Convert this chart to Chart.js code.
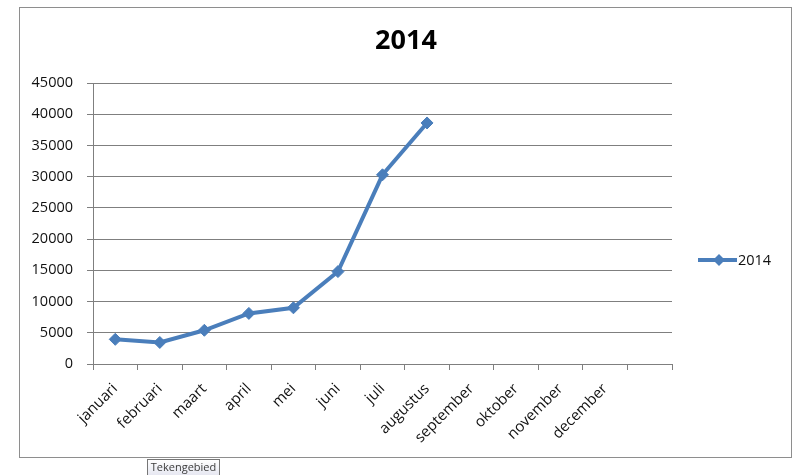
<!DOCTYPE html>
<html>
<head>
<meta charset="utf-8">
<script src="https://cdn.jsdelivr.net/npm/chart.js@4/dist/chart.umd.min.js"></script>
<style>
  html, body { margin: 0; padding: 0; background: #ffffff; }
  #wrap { width: 794px; height: 475px; }
</style>
</head>
<body>
<div id="wrap"><canvas id="c" width="794" height="475"></canvas></div>
<script>
const chartTitle = "2014";
const seriesName = "2014";
const categories = ["januari", "februari", "maart", "april", "mei", "juni", "juli", "augustus", "september", "oktober", "november", "december", ""];
const values = [3950, 3450, 5400, 8100, 9000, 14800, 30300, 38600, null, null, null, null, null];
const yMin = 0;
const yMax = 45000;
const yStep = 5000;
const tooltipText = "Tekengebied";

const FONT = "'Open Sans', 'DejaVu Sans', sans-serif";
const LINE_COLOR = "#4a7ebb";
const GRID_COLOR = "#7f7f7f";
const TEXT_COLOR = "#111111";

const decorPlugin = {
  id: "decor",
  beforeDraw(chart) {
    const ctx = chart.ctx;
    ctx.save();
    ctx.fillStyle = "#ffffff";
    ctx.fillRect(0, 0, chart.width, chart.height);
    ctx.strokeStyle = "#8e8e8e";
    ctx.lineWidth = 1;
    ctx.strokeRect(19.5, 7.5, 772, 450);
    ctx.restore();
  },
  afterDraw(chart) {
    const ctx = chart.ctx;
    ctx.save();
    ctx.fillStyle = "#000000";
    ctx.font = "bold 27px " + FONT;
    ctx.textAlign = "center";
    ctx.textBaseline = "middle";
    ctx.fillText(chartTitle, 406, 41);
    const ds = chart.data.datasets[0];
    const ly = 260;
    ctx.strokeStyle = LINE_COLOR;
    ctx.lineWidth = 4;
    ctx.beginPath();
    ctx.moveTo(698, ly);
    ctx.lineTo(737, ly);
    ctx.stroke();
    ctx.fillStyle = LINE_COLOR;
    ctx.beginPath();
    ctx.moveTo(719, ly - 6);
    ctx.lineTo(725, ly);
    ctx.lineTo(719, ly + 6);
    ctx.lineTo(713, ly);
    ctx.closePath();
    ctx.fill();
    ctx.fillStyle = TEXT_COLOR;
    ctx.font = "14.5px " + FONT;
    ctx.textAlign = "left";
    ctx.textBaseline = "middle";
    ctx.fillText(ds.label, 738, ly + 1);
    const bx = 147.5, by = 459.5, bw = 72, bh = 17;
    const g = ctx.createLinearGradient(0, by, 0, by + bh);
    g.addColorStop(0, "#ffffff");
    g.addColorStop(1, "#e4e5f0");
    ctx.fillStyle = g;
    ctx.fillRect(bx, by, bw, bh);
    ctx.strokeStyle = "#767676";
    ctx.lineWidth = 1;
    ctx.strokeRect(bx, by, bw, bh);
    ctx.fillStyle = "#3b3b3b";
    ctx.font = "11px " + FONT;
    ctx.textAlign = "center";
    ctx.textBaseline = "middle";
    ctx.fillText(tooltipText, bx + bw / 2, by + 8);
    ctx.restore();
  }
};

new Chart(document.getElementById("c"), {
  type: "line",
  data: {
    labels: categories,
    datasets: [{
      label: seriesName,
      data: values,
      borderColor: LINE_COLOR,
      backgroundColor: LINE_COLOR,
      borderWidth: 4,
      pointStyle: "rectRot",
      pointRadius: 6,
      pointBorderWidth: 1,
      pointBackgroundColor: LINE_COLOR,
      pointBorderColor: LINE_COLOR,
      tension: 0,
      spanGaps: false
    }]
  },
  options: {
    responsive: false,
    animation: false,
    devicePixelRatio: 1,
    layout: { padding: { left: 0, right: 122, top: 83, bottom: 0 } },
    plugins: {
      legend: { display: false },
      title: { display: false },
      tooltip: { enabled: false }
    },
    scales: {
      x: {
        type: "category",
        offset: true,
        grid: {
          display: true,
          drawOnChartArea: false,
          drawTicks: true,
          tickLength: 6,
          offset: true,
          color: GRID_COLOR,
          lineWidth: 1
        },
        border: { display: true, color: GRID_COLOR, width: 1 },
        ticks: {
          autoSkip: false,
          maxRotation: 45,
          minRotation: 45,
          padding: 10,
          color: TEXT_COLOR,
          font: { family: FONT, size: 15 }
        },
        afterFit(scale) { scale.height = 111; }
      },
      y: {
        min: yMin,
        max: yMax,
        grid: {
          display: true,
          drawTicks: true,
          tickLength: 6,
          color: GRID_COLOR,
          lineWidth: 1
        },
        border: { display: true, color: GRID_COLOR, width: 1 },
        ticks: {
          stepSize: yStep,
          padding: 14,
          color: TEXT_COLOR,
          font: { family: FONT, size: 14.5 },
          callback: (v) => String(v)
        },
        afterFit(scale) { scale.width = 93; }
      }
    }
  },
  plugins: [decorPlugin]
});
</script>
</body>
</html>
